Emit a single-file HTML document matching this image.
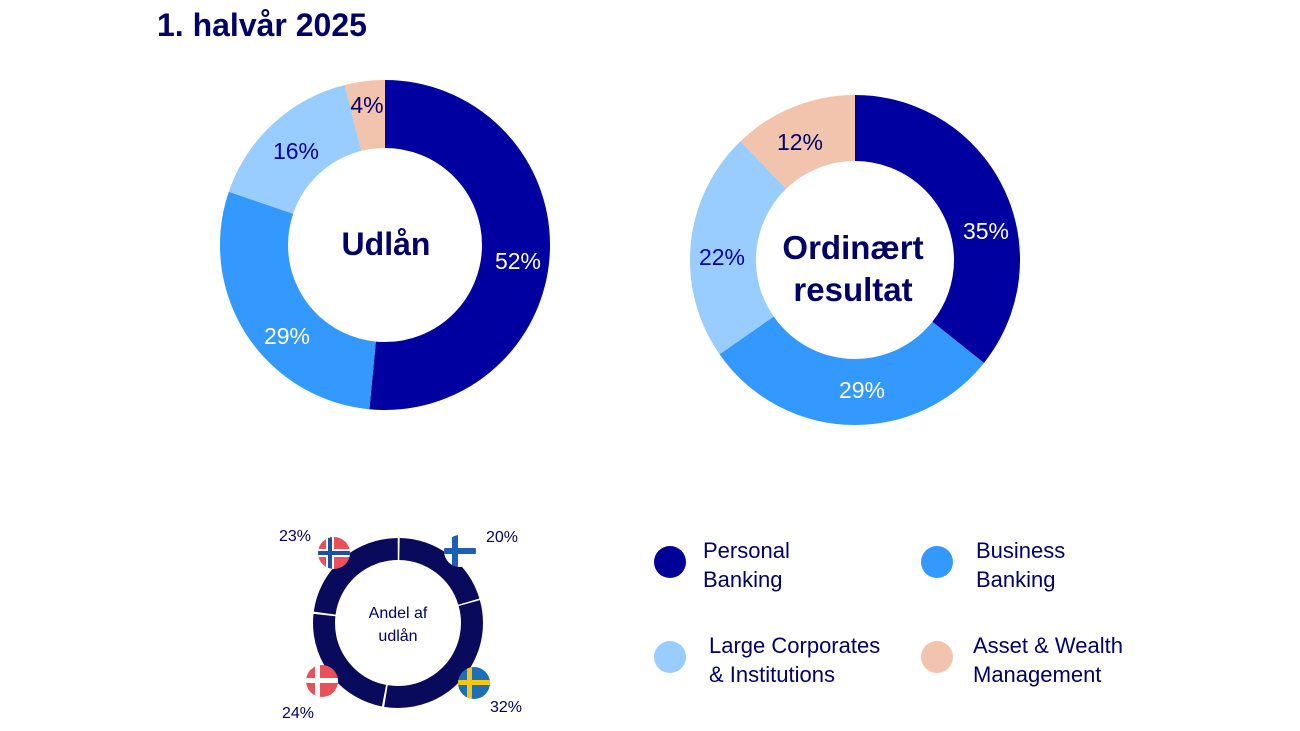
<!DOCTYPE html>
<html><head><meta charset="utf-8"><style>
body{margin:0;background:#fff;}
svg{display:block;font-family:"Liberation Sans",sans-serif;}
</style></head><body>
<svg width="1300" height="731" viewBox="0 0 1300 731">
<text x="157" y="36" font-size="32" font-weight="bold" fill="#000066">1. halvår 2025</text>
<!-- Donut 1 -->
<g transform="translate(385,245) rotate(-90)" fill="none" stroke-width="68">
<circle r="131" stroke="#0000a0" stroke-dasharray="423.8 1000" stroke-dashoffset="0"/>
<circle r="131" stroke="#3399ff" stroke-dasharray="236.3 1000" stroke-dashoffset="-423.8"/>
<circle r="131" stroke="#99ccff" stroke-dasharray="130.4 1000" stroke-dashoffset="-660.1"/>
<circle r="131" stroke="#f2c4ad" stroke-dasharray="32.6 1000" stroke-dashoffset="-790.5"/>
</g>
<g font-size="23" text-anchor="middle">
<text x="518" y="269" fill="#fff">52%</text>
<text x="287" y="344" fill="#fff">29%</text>
<text x="296" y="159" fill="#0000a0">16%</text>
<text x="367" y="113" fill="#000066">4%</text>
<text x="386" y="255" font-size="32" font-weight="bold" fill="#000066">Udlån</text>
</g>
<!-- Donut 2 -->
<g transform="translate(855,260) rotate(-90)" fill="none" stroke-width="66">
<circle r="132" stroke="#0000a0" stroke-dasharray="296.2 1000" stroke-dashoffset="0"/>
<circle r="132" stroke="#3399ff" stroke-dasharray="245.4 1000" stroke-dashoffset="-296.2"/>
<circle r="132" stroke="#99ccff" stroke-dasharray="186.2 1000" stroke-dashoffset="-541.6"/>
<circle r="132" stroke="#f2c4ad" stroke-dasharray="101.6 1000" stroke-dashoffset="-727.8"/>
</g>
<g font-size="23" text-anchor="middle">
<text x="986" y="239" fill="#fff">35%</text>
<text x="862" y="398" fill="#fff">29%</text>
<text x="722" y="265" fill="#0000a0">22%</text>
<text x="800" y="150" fill="#000066">12%</text>
<text x="853" y="259" font-size="33" font-weight="bold" fill="#000066">Ordinært</text>
<text x="853" y="301" font-size="33" font-weight="bold" fill="#000066">resultat</text>
</g>
<!-- Small donut -->
<g transform="translate(398,623) rotate(-90)" fill="none" stroke-width="22">
<circle r="74" stroke="#0a0a5c" stroke-dasharray="93 1000" stroke-dashoffset="-1.5"/>
<circle r="74" stroke="#0a0a5c" stroke-dasharray="148.5 1000" stroke-dashoffset="-96"/>
<circle r="74" stroke="#0a0a5c" stroke-dasharray="110 1000" stroke-dashoffset="-246.5"/>
<circle r="74" stroke="#0a0a5c" stroke-dasharray="106 1000" stroke-dashoffset="-358.5"/>
</g>
<text x="398" y="618" font-size="16" text-anchor="middle" fill="#000066">Andel af</text>
<text x="398" y="641" font-size="16" text-anchor="middle" fill="#000066">udlån</text>
<!-- flags -->
<defs>
<clipPath id="cn"><circle cx="334" cy="553" r="16"/></clipPath>
<clipPath id="cf"><circle cx="460" cy="551" r="16"/></clipPath>
<clipPath id="cd"><circle cx="322" cy="681" r="16"/></clipPath>
<clipPath id="cs"><circle cx="474" cy="683" r="16"/></clipPath>
</defs>
<g clip-path="url(#cn)"><rect x="318" y="537" width="32" height="32" fill="#e8505a"/><rect x="318" y="549" width="32" height="8" fill="#fff"/><rect x="326" y="537" width="8" height="32" fill="#fff"/><rect x="318" y="551" width="32" height="4" fill="#1f4ea0"/><rect x="328" y="537" width="4" height="32" fill="#1f4ea0"/></g>
<g clip-path="url(#cf)"><rect x="444" y="535" width="32" height="32" fill="#fff"/><rect x="444" y="548" width="32" height="6" fill="#1f5fb0"/><rect x="452" y="535" width="6" height="32" fill="#1f5fb0"/></g>
<g clip-path="url(#cd)"><rect x="306" y="665" width="32" height="32" fill="#e8505a"/><rect x="306" y="678" width="32" height="5" fill="#fff"/><rect x="315" y="665" width="5" height="32" fill="#fff"/></g>
<g clip-path="url(#cs)"><rect x="458" y="667" width="32" height="32" fill="#1f6fb5"/><rect x="458" y="680" width="32" height="5" fill="#f5c518"/><rect x="467" y="667" width="5" height="32" fill="#f5c518"/></g>
<g font-size="16" fill="#000066">
<text x="279" y="541">23%</text>
<text x="486" y="542">20%</text>
<text x="282" y="718">24%</text>
<text x="490" y="712">32%</text>
</g>
<!-- Legend -->
<circle cx="670" cy="562" r="16" fill="#000099"/>
<circle cx="937" cy="562" r="16" fill="#3399ff"/>
<circle cx="670" cy="657" r="16" fill="#99ccff"/>
<circle cx="937" cy="657" r="16" fill="#f2c4ad"/>
<g font-size="22" fill="#000066">
<text x="703" y="558">Personal</text><text x="703" y="587">Banking</text>
<text x="976" y="558">Business</text><text x="976" y="587">Banking</text>
<text x="709" y="653">Large Corporates</text><text x="709" y="682">&amp; Institutions</text>
<text x="973" y="653">Asset &amp; Wealth</text><text x="973" y="682">Management</text>
</g>
</svg>
</body></html>
